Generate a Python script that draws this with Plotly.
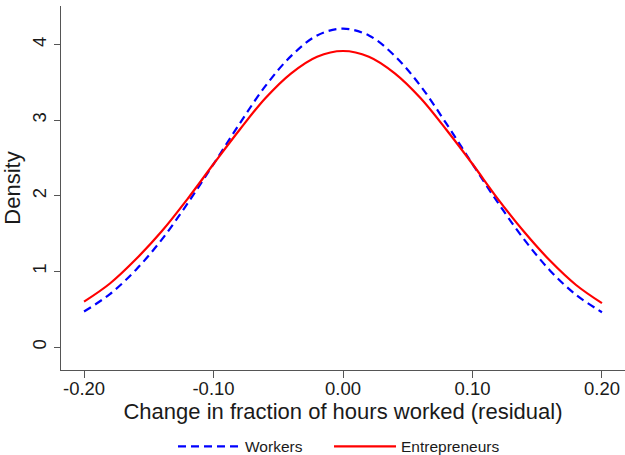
import plotly.graph_objects as go

# Data (kernel density estimates)
x_vals = [-0.20, -0.18, -0.16, -0.14, -0.12, -0.10, -0.08, -0.06, -0.04, -0.02,
          0.00, 0.02, 0.04, 0.06, 0.08, 0.10, 0.12, 0.14, 0.16, 0.18, 0.20]
workers = [0.47, 0.70, 1.02, 1.42, 1.90, 2.42, 2.95, 3.45, 3.85, 4.12,
           4.21, 4.12, 3.85, 3.45, 2.95, 2.42, 1.90, 1.42, 1.01, 0.69, 0.46]
entrepreneurs = [0.60, 0.84, 1.16, 1.53, 1.96, 2.42, 2.87, 3.29, 3.62, 3.84,
                 3.915, 3.84, 3.62, 3.29, 2.87, 2.42, 1.95, 1.52, 1.14, 0.82, 0.58]

x_ticks = [-0.2, -0.1, 0.0, 0.1, 0.2]
x_tick_labels = ["-0.20", "-0.10", "0.00", "0.10", "0.20"]
y_ticks = [0, 1, 2, 3, 4]

FONT = "Liberation Sans, Arial, sans-serif"
AXIS = "#555555"
TEXT = "#1a1a1a"

fig = go.Figure()
fig.add_trace(go.Scatter(
    x=x_vals, y=workers, mode="lines", name="Workers", legend="legend",
    line=dict(color="#0000ff", width=2.2, dash="8px,5px", shape="spline"),
))
fig.add_trace(go.Scatter(
    x=x_vals, y=entrepreneurs, mode="lines", name="Entrepreneurs", legend="legend2",
    line=dict(color="#ff0000", width=2.2, shape="spline"),
))

legend_common = dict(
    orientation="h", xref="paper", xanchor="left",
    y=0.018, yref="container", yanchor="middle",
    font=dict(size=15.5, family=FONT, color=TEXT),
    itemwidth=62, bgcolor="rgba(0,0,0,0)",
)

fig.update_layout(
    width=625, height=455,
    margin=dict(l=61, r=0, t=6, b=85, autoexpand=False),
    paper_bgcolor="white", plot_bgcolor="white",
    font=dict(family=FONT, color=TEXT),
    showlegend=True,
    legend=dict(x=0.1986, **legend_common),
    legend2=dict(x=0.4752, **legend_common),
    xaxis=dict(
        range=[-0.2178, 0.2178],
        tickvals=x_ticks, ticktext=x_tick_labels,
        showline=True, linecolor=AXIS, linewidth=1.3,
        ticks="outside", ticklen=7, tickcolor=AXIS, tickwidth=1.3,
        showgrid=False, zeroline=False,
        ticklabelstandoff=-5,
        tickfont=dict(size=18.5, family=FONT, color=TEXT),
        title=dict(text="Change in fraction of hours worked (residual)",
                   font=dict(size=22, family=FONT, color=TEXT), standoff=0),
        automargin=False,
    ),
    yaxis=dict(
        range=[-0.304, 4.51],
        tickvals=y_ticks,
        showline=True, linecolor=AXIS, linewidth=1.3,
        ticks="outside", ticklen=6, tickcolor=AXIS, tickwidth=1.3,
        showgrid=False, zeroline=False,
        tickangle=-90,
        tickfont=dict(size=18.5, family=FONT, color=TEXT),
        title=dict(text="Density", font=dict(size=22, family=FONT, color=TEXT), standoff=6),
        automargin=False,
    ),
)

fig.write_html("out.html")
